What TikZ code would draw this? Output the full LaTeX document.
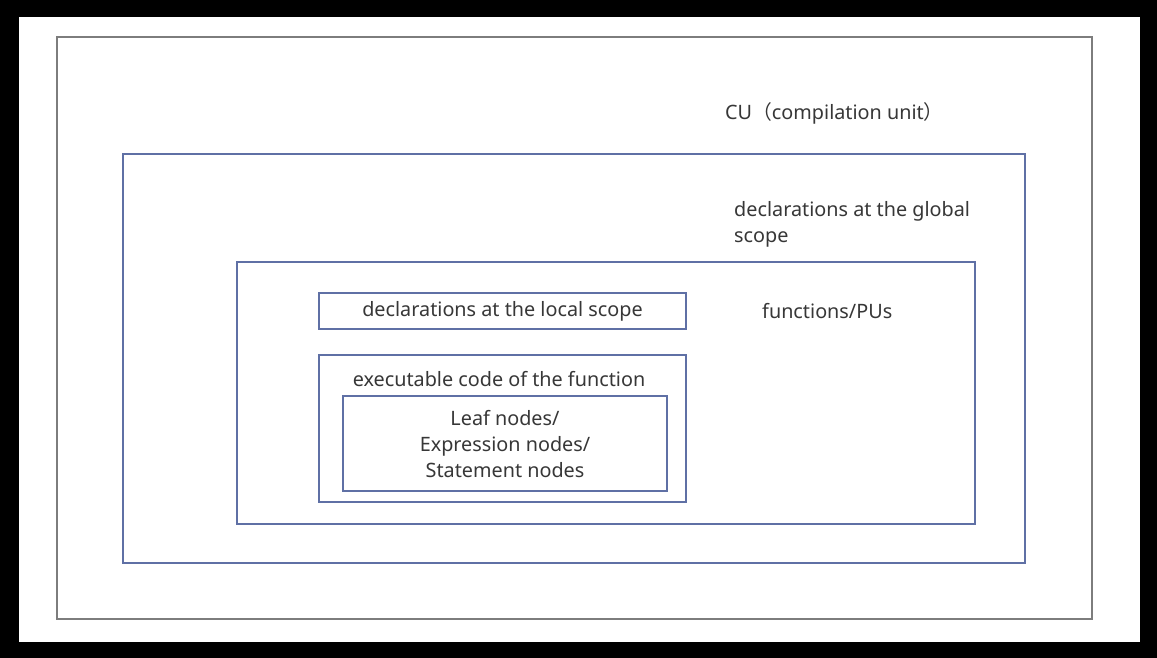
\documentclass[tikz,border=0pt]{standalone}
\usepackage{fontspec}
\setmainfont{Noto Sans}
\newfontfamily\cjk{Noto Sans CJK SC}
\begin{document}
\begin{tikzpicture}[x=1pt,y=-1pt,
  bluebox/.style={draw=boxblue,line width=1.1pt},
  graybox/.style={draw=boxgray,line width=1.6pt},
  txt/.style={text=txtgray,font=\fontsize{19.8}{26}\selectfont,inner sep=0pt},
]
\definecolor{boxblue}{RGB}{95,112,165}
\definecolor{boxgray}{RGB}{125,125,125}
\definecolor{txtgray}{RGB}{55,55,55}
\fill[black] (0,0) rectangle (1157,658);
\useasboundingbox (0,0) rectangle (1157,658);
\fill[white] (19,17) rectangle (1140,642);
\draw[graybox] (57,37) rectangle (1092,619);
\draw[bluebox] (123,154) rectangle (1025,563);
\draw[bluebox] (237,262) rectangle (975,524);
\node[bluebox,minimum width=367pt,minimum height=36pt,inner sep=0pt] (local) at (502.5,311) {};
\draw[bluebox] (319,355) rectangle (686,502);
\draw[bluebox] (343,396) rectangle (667,491);
\node[txt,anchor=west] (cu) at (725,113) {CU{\cjk（}compilation unit{\cjk）}};
\node[txt,anchor=west,align=left] (glob) at (734,224) {declarations at the global\\scope};
\node[txt,anchor=west] (fun) at (762,311) {functions/PUs};
\node[txt] (loc) at (local.center) {declarations at the local scope};
\node[txt] (exe) at (499,379) {executable code of the function};
\node[txt,align=center] (leaf) at (505,444) {Leaf nodes/\\Expression nodes/\\Statement nodes};
\end{tikzpicture}
\end{document}
